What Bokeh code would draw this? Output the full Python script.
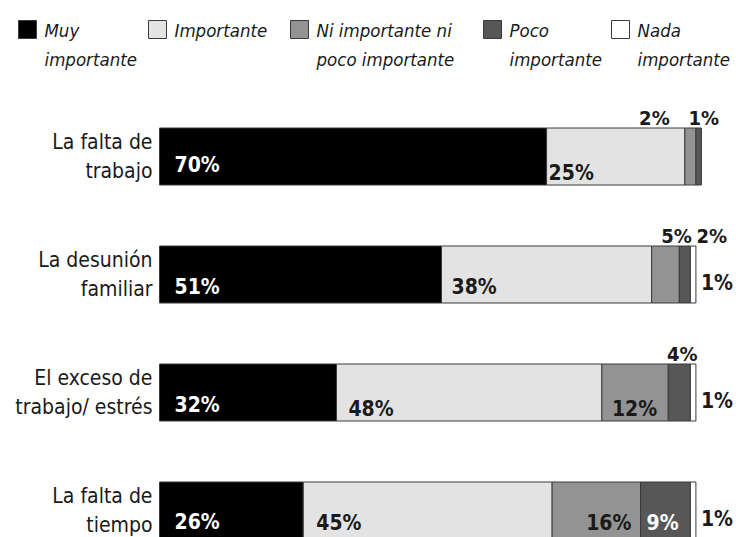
from bokeh.plotting import figure
from bokeh.models import Range1d, ColumnDataSource
from bokeh.core.properties import value
from bokeh.embed import file_html
from bokeh.resources import INLINE

# ---------------- data ----------------
categories = ["La falta de\ntrabajo", "La desunión\nfamiliar",
              "El exceso de\ntrabajo/ estrés", "La falta de\ntiempo"]
series_names = ["Muy\nimportante", "Importante", "Ni importante ni\npoco importante",
                "Poco\nimportante", "Nada\nimportante"]
muy_importante = [70, 51, 32, 26]
importante = [25, 38, 48, 45]
ni_ni = [2, 5, 12, 16]
poco_importante = [1, 2, 4, 9]
nada_importante = [0, 1, 1, 1]
series_values = [muy_importante, importante, ni_ni, poco_importante, nada_importante]

# ---------------- style / layout ----------------
colors = ["#000000", "#e3e3e3", "#939393", "#575757", "#ffffff"]
FONT = "DejaVu Sans Condensed"
W, H = 736, 537
X0 = 159.0        # canvas px of 0 %
PX = 5.53         # px per %
ROW0 = 156.0      # canvas px of first row centre
STEP = 118.0      # px between rows
BAR_PX = 57.0

x_start = -X0 / PX
x_end = x_start + W / PX
y_top = -ROW0 / STEP
y_bottom = y_top + H / STEP


def X(px):
    return x_start + px / PX


def Y(py):
    return y_top + py / STEP


p = figure(width=W, height=H, output_backend="svg", toolbar_location=None,
           x_range=Range1d(x_start, x_end), y_range=Range1d(y_bottom, y_top),
           x_axis_location=None, y_axis_location=None, min_border=0,
           outline_line_color=None)
p.grid.visible = False
p.background_fill_color = "white"
p.border_fill_color = "white"

rows = list(range(len(categories)))

# bars
left = [0.0] * len(rows)
for s, vals in enumerate(series_values):
    right = [l + v for l, v in zip(left, vals)]
    keep = [i for i in rows if series_values[s][i] > 0]
    src = ColumnDataSource(dict(y=[rows[i] for i in keep], left=[left[i] for i in keep],
                                right=[right[i] for i in keep]))
    p.hbar(y="y", left="left", right="right", height=BAR_PX / STEP, source=src,
           fill_color=colors[s], line_color="#3a3a3a", line_width=1)
    left = right

starts = []
acc = [0.0] * len(rows)
for vals in series_values:
    starts.append(list(acc))
    acc = [a + v for a, v in zip(acc, vals)]

FS = "21px"
# inside labels: (row, series, dx px from segment start, dy px from row centre)
inside = [(0, 0, 15, 8), (0, 1, 2, 16),
          (1, 0, 15, 12), (1, 1, 10, 12),
          (2, 0, 15, 12), (2, 1, 12, 16), (2, 2, 10, 16),
          (3, 0, 15, 11), (3, 1, 13, 12), (3, 2, 34, 12), (3, 3, 6, 12)]
label_color = ["white", "#1a1a1a", "#1a1a1a", "white", "#1a1a1a"]
d = dict(x=[], y=[], t=[], dx=[], dy=[], c=[])
for r, s, dx, dy in inside:
    d["x"].append(starts[s][r])
    d["y"].append(rows[r])
    d["t"].append(f"{series_values[s][r]}%")
    d["dx"].append(dx)
    d["dy"].append(dy)
    d["c"].append(label_color[s])
p.text(x="x", y="y", text="t", x_offset="dx", y_offset="dy", text_color="c",
       source=ColumnDataSource(d), text_font=value(FONT), text_font_size=FS,
       text_font_style="bold", text_align="left", text_baseline="middle")

# outside labels above the bar: (row, series, dx px from segment centre)
above = [(0, 2, -36), (0, 3, 5), (1, 2, 11), (1, 3, 27), (2, 3, 3)]
d = dict(x=[], y=[], t=[], dx=[])
for r, s, dx in above:
    d["x"].append(starts[s][r] + series_values[s][r] / 2)
    d["y"].append(rows[r])
    d["t"].append(f"{series_values[s][r]}%")
    d["dx"].append(dx)
p.text(x="x", y="y", text="t", x_offset="dx", y_offset=-BAR_PX / 2 - 10,
       source=ColumnDataSource(d), text_color="#1a1a1a", text_font=value(FONT),
       text_font_size="20px", text_font_style="bold", text_align="center",
       text_baseline="middle")

# outside labels to the right (nada importante)
rr = [r for r in rows if nada_importante[r] > 0]
d = dict(x=[starts[4][r] + nada_importante[r] for r in rr], y=[rows[r] for r in rr],
         t=[f"{nada_importante[r]}%" for r in rr])
p.text(x="x", y="y", text="t", x_offset=5, y_offset=8, source=ColumnDataSource(d),
       text_color="#1a1a1a", text_font=value(FONT), text_font_size=FS,
       text_font_style="bold", text_align="left", text_baseline="middle")

# category labels
p.text(x=[0] * len(rows), y=rows, text=categories, x_offset=-7, y_offset=0,
       text_color="#1a1a1a", text_font=value(FONT), text_font_size=FS,
       text_align="right", text_baseline="middle", text_line_height=1.18)

# legend
leg_x_px = [18, 148, 290, 483, 611]
box_top, box_size = 20, 18
p.quad(left=[X(x) for x in leg_x_px], right=[X(x + box_size) for x in leg_x_px],
       top=[Y(box_top)] * 5, bottom=[Y(box_top + box_size)] * 5,
       fill_color=colors, line_color="#3a3a3a", line_width=1)
p.text(x=[X(x + 26) for x in leg_x_px], y=[Y(box_top - 1)] * 5, text=series_names,
       text_color="#1a1a1a", text_font=value(FONT), text_font_size="18.5px",
       text_font_style="italic", text_align="left", text_baseline="top",
       text_line_height=1.4)

open("out.html", "w").write(file_html(p, INLINE))
